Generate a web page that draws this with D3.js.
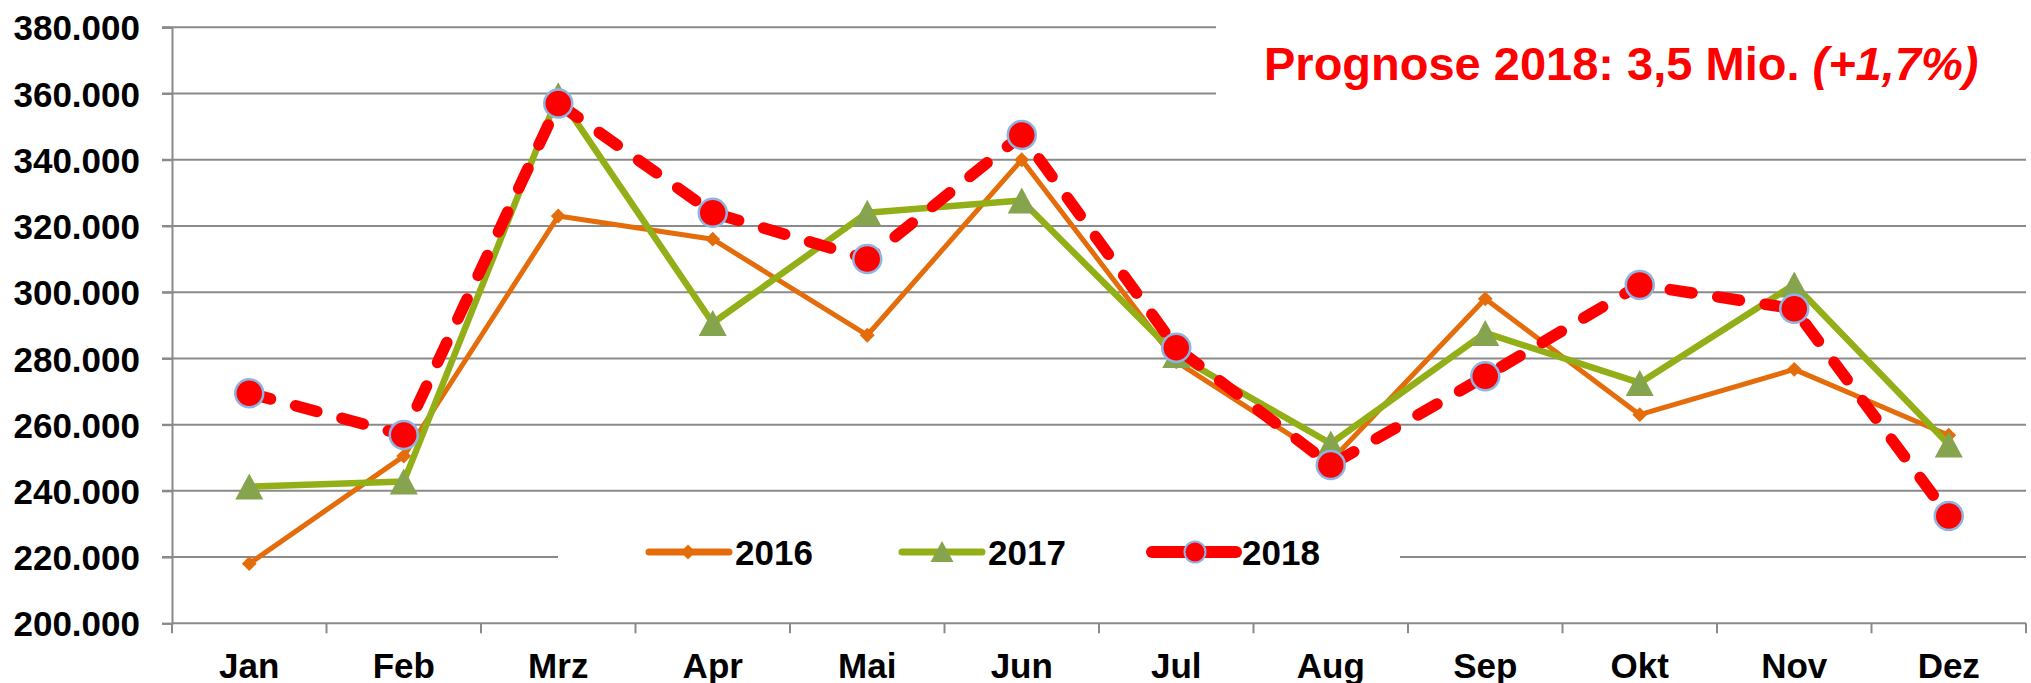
<!DOCTYPE html>
<html>
<head>
<meta charset="utf-8">
<script src="https://cdn.jsdelivr.net/npm/d3@7"></script>
<style>
  html, body { margin: 0; padding: 0; background: #fff; }
  svg { display: block; }
  text { font-family: Arial, 'Liberation Sans', sans-serif; font-weight: bold; }
</style>
</head>
<body>
<svg width="2031" height="683"></svg>
<script>
const months = ['Jan', 'Feb', 'Mrz', 'Apr', 'Mai', 'Jun', 'Jul', 'Aug', 'Sep', 'Okt', 'Nov', 'Dez'];
const v2016 = [218000, 250500, 323000, 316000, 287000, 340000, 279000, 249000, 298000, 263000, 276700, 256800];
const v2017 = [241300, 242800, 359500, 290700, 324000, 327700, 281000, 254300, 287700, 272600, 302300, 254000];
const v2018 = [269500, 256900, 357000, 324000, 310000, 347500, 283200, 247800, 274600, 302200, 295000, 232400];
const yTicks = [200000, 220000, 240000, 260000, 280000, 300000, 320000, 340000, 360000, 380000];
const seriesNames = ['2016', '2017', '2018'];

const svg = d3.select('svg');
const plotLeft = 172, plotRight = 2026, plotTop = 27.3, plotBottom = 623.3;

const x = d3.scaleBand().domain(months).range([plotLeft, plotRight]).padding(0);
const y = d3.scaleLinear().domain([200000, 380000]).range([plotBottom, plotTop]);
const cx = m => x(m) + x.bandwidth() / 2;

const de = d3.formatLocale({ decimal: ',', thousands: '.', grouping: [3], currency: ['', ' €'] });
const fmt = de.format(',.0f');

const gridColor = '#8a8a8a';

// gridlines
svg.append('g')
  .selectAll('line')
  .data(yTicks.filter(d => d > 200000))
  .join('line')
  .attr('x1', plotLeft - 10)
  .attr('x2', plotRight)
  .attr('y1', d => y(d))
  .attr('y2', d => y(d))
  .style('stroke', gridColor)
  .style('stroke-width', 2);

// y axis
const yAxis = svg.append('g')
  .attr('transform', `translate(${plotLeft},0)`)
  .call(d3.axisLeft(y).tickValues(yTicks).tickFormat(fmt).tickSize(10).tickPadding(22));
yAxis.select('.domain').style('stroke', gridColor).style('stroke-width', 2);
yAxis.selectAll('.tick line').style('stroke', gridColor).style('stroke-width', 2);
yAxis.selectAll('.tick text')
  .style('font-size', '35px')
  .style('fill', '#000')
  .attr('dy', '0.36em');

// x axis
const xAxis = svg.append('g')
  .attr('transform', `translate(0,${plotBottom})`)
  .call(d3.axisBottom(x).tickSize(0));
xAxis.select('.domain').remove();
xAxis.selectAll('.tick text')
  .style('font-size', '35px')
  .style('fill', '#000')
  .attr('y', 55)
  .attr('dy', 0);

svg.append('line')
  .attr('x1', plotLeft).attr('x2', plotRight)
  .attr('y1', plotBottom).attr('y2', plotBottom)
  .style('stroke', gridColor).style('stroke-width', 2);

svg.append('g')
  .selectAll('line')
  .data(months.map(m => x(m)).concat([plotRight]))
  .join('line')
  .attr('x1', d => d).attr('x2', d => d)
  .attr('y1', plotBottom).attr('y2', plotBottom + 10)
  .style('stroke', gridColor).style('stroke-width', 2);

// title box
svg.append('rect')
  .attr('x', 1216).attr('y', 0)
  .attr('width', 2031 - 1216).attr('height', 128)
  .style('fill', '#fff');

const title = svg.append('text')
  .attr('x', 1264)
  .attr('y', 80)
  .style('font-size', '47px')
  .style('fill', '#ff0000');
title.append('tspan').text('Prognose 2018: 3,5 Mio. ');
title.append('tspan').style('font-style', 'italic').text('(+1,7%)');

// series
const line = d3.line().x((d, i) => cx(months[i])).y(d => y(d));

const orange = '#e46c0a', green = '#93af17', triFill = '#86a34e', red = '#ff0000', ring = '#8eb4e3';

svg.append('path')
  .datum(v2016)
  .attr('d', line)
  .style('fill', 'none')
  .style('stroke', orange)
  .style('stroke-width', 5)
  .style('stroke-linejoin', 'round');

svg.append('g')
  .selectAll('path')
  .data(v2016)
  .join('path')
  .attr('d', d3.symbol().type(d3.symbolDiamond2).size(140))
  .attr('transform', (d, i) => `translate(${cx(months[i])},${y(d)})`)
  .style('fill', orange);

svg.append('path')
  .datum(v2017)
  .attr('d', line)
  .style('fill', 'none')
  .style('stroke', green)
  .style('stroke-width', 6.5)
  .style('stroke-linejoin', 'round');

svg.append('g')
  .selectAll('path')
  .data(v2017)
  .join('path')
  .attr('d', 'M0,-13L14,13L-14,13Z')
  .attr('transform', (d, i) => `translate(${cx(months[i])},${y(d)})`)
  .style('fill', triFill);

svg.append('path')
  .datum(v2018)
  .attr('d', line)
  .style('fill', 'none')
  .style('stroke', red)
  .style('stroke-width', 11.5)
  .style('stroke-linecap', 'round')
  .style('stroke-linejoin', 'round')
  .style('stroke-dasharray', '22 26');

svg.append('g')
  .selectAll('circle')
  .data(v2018)
  .join('circle')
  .attr('cx', (d, i) => cx(months[i]))
  .attr('cy', d => y(d))
  .attr('r', 14)
  .style('fill', red)
  .style('stroke', ring)
  .style('stroke-width', 2.5);

// legend
svg.append('rect')
  .attr('x', 558).attr('y', 522)
  .attr('width', 1400 - 558).attr('height', 66)
  .style('fill', '#fff');

const legendX = [649, 902, 1152];
const legendY = 552;
const lg = svg.append('g')
  .selectAll('g')
  .data(seriesNames)
  .join('g')
  .attr('transform', (d, i) => `translate(${legendX[i]},${legendY})`);

lg.append('line')
  .attr('x1', 0).attr('x2', (d, i) => i === 2 ? 84 : 80)
  .attr('y1', 0).attr('y2', 0)
  .style('stroke', (d, i) => [orange, green, red][i])
  .style('stroke-width', (d, i) => [7, 7, 12][i])
  .style('stroke-linecap', 'round');

lg.filter((d, i) => i === 0)
  .append('path')
  .attr('d', d3.symbol().type(d3.symbolDiamond2).size(140))
  .attr('transform', 'translate(39,0)')
  .style('fill', orange);

lg.filter((d, i) => i === 1)
  .append('path')
  .attr('d', 'M0,-11L11.5,10L-11.5,10Z')
  .attr('transform', 'translate(40,0)')
  .style('fill', triFill);

lg.filter((d, i) => i === 2)
  .append('circle')
  .attr('cx', 43).attr('cy', 0).attr('r', 10.5)
  .style('fill', red)
  .style('stroke', ring)
  .style('stroke-width', 2);

lg.append('text')
  .attr('x', (d, i) => i === 2 ? 90 : 86)
  .attr('y', 13)
  .style('font-size', '35px')
  .style('fill', '#000')
  .text(d => d);
</script>
</body>
</html>
